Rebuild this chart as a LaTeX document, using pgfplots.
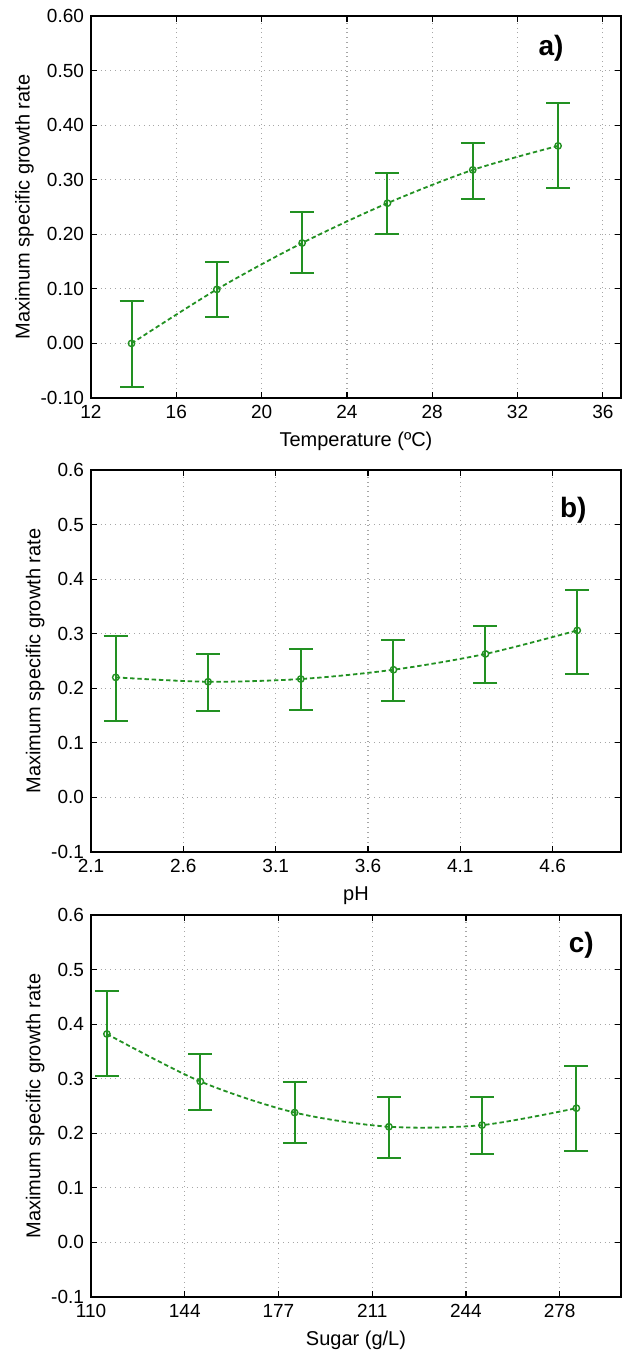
\documentclass[border=0pt]{standalone}
\usepackage{fontspec}
\setmainfont{Liberation Sans}
\usepackage{pgfplots}
\usepackage{pgfplotstable}
\pgfplotsset{compat=1.18}
\definecolor{stgreen}{RGB}{34,145,34}

% x, mean, error plus, error minus
\pgfplotstableread{
x    y     ep    em
13.9 0.000 0.077 0.079
17.9 0.099 0.050 0.051
21.9 0.184 0.056 0.055
25.9 0.257 0.055 0.056
29.9 0.318 0.049 0.054
33.9 0.362 0.079 0.078
}\tempdata

\pgfplotstableread{
x     y     ep    em
2.234 0.220 0.076 0.080
2.734 0.212 0.050 0.053
3.236 0.217 0.055 0.056
3.738 0.234 0.054 0.058
4.236 0.263 0.051 0.053
4.733 0.306 0.075 0.080
}\phdata

\pgfplotstableread{
x     y     ep    em
115.7 0.382 0.079 0.077
149.2 0.295 0.051 0.053
183.0 0.238 0.056 0.056
216.8 0.212 0.054 0.058
250.2 0.215 0.051 0.053
284.0 0.246 0.077 0.079
}\sugardata

\tikzset{panel/.style={font=\fontsize{14}{16}\selectfont\bfseries}}

\pgfplotsset{
  growth/.style={
    scale only axis, width=265pt, height=191pt,
    axis line style={line width=1pt},
    grid=major, grid style={dotted, gray!70, line width=0.6pt},
    tick align=inside, major tick length=3pt, tick style={black, line width=0.6pt},
    ymin=-0.1, ymax=0.6, ytick={-0.1,0,0.1,0.2,0.3,0.4,0.5,0.6},
    ticklabel style={font=\fontsize{9.5}{11}\selectfont},
    label style={font=\fontsize{10}{12}\selectfont},
    ylabel={Maximum specific growth rate},
    ylabel style={yshift=-3.5pt},
    /pgf/number format/assume math mode=true,
    anchor=north west,
  },
  fitline/.style={stgreen, smooth, line width=0.9pt, dash pattern=on 2.2pt off 1.4pt},
  meanbars/.style={stgreen, only marks, mark=o, mark size=1.6pt,
    mark options={line width=0.7pt},
    error bars/.cd, y dir=both, y explicit,
    error bar style={line width=1pt},
    error mark options={rotate=90, mark size=6pt, line width=1pt}},
}

\begin{document}
\begin{tikzpicture}
% a) temperature
\begin{axis}[growth, at={(0,0)},
  xmin=12, xmax=36.85, xtick={12,16,...,36},
  xlabel={Temperature (ºC)},
  yticklabel style={/pgf/number format/.cd, fixed, fixed zerofill, precision=2},
]
\addplot[fitline] table[x=x, y=y] {\tempdata};
\addplot[meanbars] table[x=x, y=y, y error plus=ep, y error minus=em] {\tempdata};
\node[panel] at (rel axis cs:0.868,0.916) {a)};
\end{axis}

% b) pH
\begin{axis}[growth, at={(0,-227pt)},
  xmin=2.1, xmax=4.97, xtick={2.1,2.6,3.1,3.6,4.1,4.6},
  xlabel={pH},
  yticklabel style={/pgf/number format/.cd, fixed, fixed zerofill, precision=1},
]
\addplot[fitline] table[x=x, y=y] {\phdata};
\addplot[meanbars] table[x=x, y=y, y error plus=ep, y error minus=em] {\phdata};
\node[panel] at (rel axis cs:0.91,0.895) {b)};
\end{axis}

% c) sugar
\begin{axis}[growth, at={(0,-449.5pt)},
  xmin=110, xmax=300, xtick={110,143.6,177.2,210.8,244.4,278},
  xticklabels={110,144,177,211,244,278},
  xlabel={Sugar (g/L)},
  yticklabel style={/pgf/number format/.cd, fixed, fixed zerofill, precision=1},
]
\addplot[fitline] table[x=x, y=y] {\sugardata};
\addplot[meanbars] table[x=x, y=y, y error plus=ep, y error minus=em] {\sugardata};
\node[panel] at (rel axis cs:0.925,0.92) {c)};
\end{axis}

\pgfresetboundingbox
\path (-45.5pt,8pt) rectangle (266.5pt,-670pt);
\end{tikzpicture}
\end{document}
